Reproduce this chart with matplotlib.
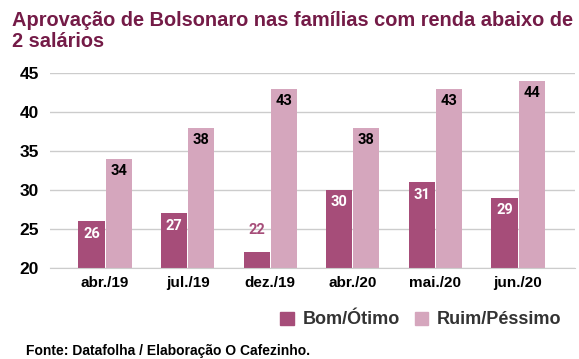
import matplotlib
matplotlib.use("Agg")
import matplotlib.pyplot as plt
from matplotlib.patches import Patch
import numpy as np

categories = ["abr./19", "jul./19", "dez./19", "abr./20", "mai./20", "jun./20"]
bom_otimo = [26, 27, 22, 30, 31, 29]
ruim_pessimo = [34, 38, 43, 38, 43, 44]
series_names = ["Bom/Ótimo", "Ruim/Péssimo"]
yticks = [20, 25, 30, 35, 40, 45]

c_dark = "#a64d79"
c_light = "#d5a6bd"
c_title = "#741b47"

plt.rcParams['font.family'] = ['Liberation Sans', 'DejaVu Sans']

fig = plt.figure(figsize=(5.79, 3.59), dpi=100)
ax = fig.add_axes([50/579, 1-268/359, 525/579, 195/359])

x = np.arange(len(categories))
w = 0.315
gap = 0.006
b1 = ax.bar(x - w/2 - gap, [v - 20 for v in bom_otimo], width=w, bottom=20, color=c_dark, zorder=3)
b2 = ax.bar(x + w/2 + gap, [v - 20 for v in ruim_pessimo], width=w, bottom=20, color=c_light, zorder=3)

for xi, v in zip(x, bom_otimo):
    if v - 20 >= 4:
        ax.annotate(str(v), (xi - w/2 - gap, v), xytext=(0, -9), textcoords="offset points",
                    ha="center", va="center", color="white", fontsize=10.5, fontweight="bold",
                    family=["Roboto", "DejaVu Sans"], zorder=4)
    else:
        ax.annotate(str(v), (xi - w/2 - gap, v), xytext=(0, 16), textcoords="offset points",
                    ha="center", va="center", color=c_dark, fontsize=10.5, fontweight="bold",
                    family=["Roboto", "DejaVu Sans"], zorder=4)
for xi, v in zip(x, ruim_pessimo):
    ax.annotate(str(v), (xi + w/2 + gap, v), xytext=(0, -9), textcoords="offset points",
                ha="center", va="center", color="black", fontsize=10.5, fontweight="bold",
                family=["Roboto", "DejaVu Sans"], zorder=4)

ax.set_xlim(-0.666, 5.69)
ax.set_ylim(20, 45)
ax.set_yticks(yticks)
ax.set_yticklabels([str(t) for t in yticks], fontsize=12.5, fontweight="bold")
ax.set_xticks(x)
ax.set_xticklabels(categories, fontsize=11, fontweight="bold")
ax.tick_params(axis="both", length=0)
ax.tick_params(axis="y", pad=8)
ax.tick_params(axis="x", pad=6)
ax.grid(axis="y", color="#cccccc", linewidth=1, zorder=0)
for s in ["top", "right", "left"]:
    ax.spines[s].set_visible(False)
ax.spines["bottom"].set_color("#cccccc")
ax.spines["bottom"].set_zorder(5)

fig.text(12/579, 1-31/359, "Aprovação de Bolsonaro nas famílias com renda abaixo de\n2 salários",
         fontsize=14.4, fontweight="bold", color=c_title, ha="left", va="center", linespacing=1.1)

handles = [Patch(color=c_dark, label=series_names[0]), Patch(color=c_light, label=series_names[1])]
leg = fig.legend(handles=handles, loc="center right", bbox_to_anchor=(578/579, 1-320/359),
                 ncol=2, frameon=False, prop={"weight": "bold", "size": 13},
                 handlelength=0.75, handleheight=0.75, handletextpad=0.5, columnspacing=0.8)
for t in leg.get_texts():
    t.set_color("#333333")

fig.text(26/579, 1-351/359, "Fonte: Datafolha / Elaboração O Cafezinho.", fontsize=10,
         fontweight="bold", color="black", ha="left", va="center")

fig.savefig("out.png", dpi=100)
